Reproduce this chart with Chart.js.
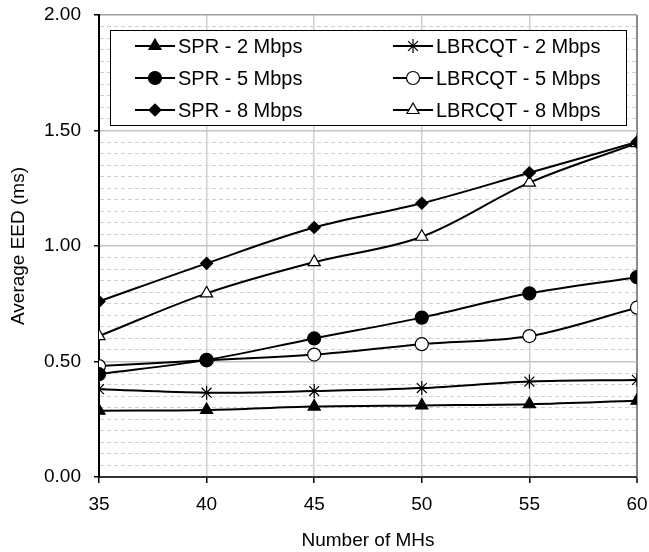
<!DOCTYPE html>
<html lang="en">
  <head>
    <meta charset="UTF-8" />
    <title>Average EED</title>
    <script src="https://cdn.jsdelivr.net/npm/chart.js"></script>
    <style>
      body { margin: 0; background: #fff; }
      #chartBox { width: 649px; height: 552px; }
    </style>
  </head>
  <body>
    <div id="chartBox"><canvas id="eedChart"></canvas></div>

    <script>
      const numMHs = [35, 40, 45, 50, 55, 60];
      const spr2 = [0.287, 0.29, 0.305, 0.31, 0.315, 0.33];
      const spr5 = [0.445, 0.507, 0.6, 0.69, 0.795, 0.865];
      const spr8 = [0.76, 0.925, 1.08, 1.185, 1.317, 1.45];
      const lbr2 = [0.38, 0.365, 0.372, 0.385, 0.413, 0.42];
      const lbr5 = [0.48, 0.505, 0.53, 0.575, 0.61, 0.733];
      const lbr8 = [0.61, 0.795, 0.93, 1.04, 1.274, 1.445];
      const seriesLabels = [
        "SPR - 2 Mbps", "SPR - 5 Mbps", "SPR - 8 Mbps",
        "LBRCQT - 2 Mbps", "LBRCQT - 5 Mbps", "LBRCQT - 8 Mbps",
      ];

      const FONT = "'Liberation Sans', Arial, sans-serif";

      function toPoints(values) {
        return values.map((v, i) => ({ x: numMHs[i], y: v }));
      }

      function isMajor(v) {
        return Math.abs(v * 2 - Math.round(v * 2)) < 1e-6;
      }

      function makeSet(label, values, style, radius, fill) {
        return {
          label: label,
          data: toPoints(values),
          borderColor: "#000",
          borderWidth: 2,
          tension: 0.35,
          pointStyle: style,
          pointRadius: radius,
          pointBackgroundColor: fill,
          pointBorderColor: "#000",
          pointBorderWidth: 1.2,
        };
      }

      const datasets = [
        makeSet(seriesLabels[0], spr2, "triangle", 7, "#000"),
        makeSet(seriesLabels[1], spr5, "circle", 6.5, "#000"),
        makeSet(seriesLabels[2], spr8, "rectRot", 6, "#000"),
        makeSet(seriesLabels[3], lbr2, "star", 7, "#fff"),
        makeSet(seriesLabels[4], lbr5, "circle", 6.5, "#fff"),
        makeSet(seriesLabels[5], lbr8, "triangle", 7, "#fff"),
      ];

      // legend box drawn inside the plot, two columns of three
      const boxLegend = {
        id: "boxLegend",
        afterDraw(chart) {
          const ctx = chart.ctx;
          ctx.save();
          ctx.fillStyle = "#fff";
          ctx.fillRect(110, 30, 516, 95);
          ctx.strokeStyle = "#000";
          ctx.lineWidth = 1;
          ctx.strokeRect(110.5, 30.5, 516, 95);

          const cols = [135, 393];
          const rows = [46, 78, 110];
          chart.data.datasets.forEach((ds, i) => {
            const x0 = cols[Math.floor(i / 3)];
            const y = rows[i % 3];
            ctx.strokeStyle = "#000";
            ctx.lineWidth = 2;
            ctx.beginPath();
            ctx.moveTo(x0, y);
            ctx.lineTo(x0 + 40, y);
            ctx.stroke();
            ctx.fillStyle = ds.pointBackgroundColor;
            ctx.lineWidth = ds.pointBorderWidth;
            Chart.helpers.drawPoint(ctx, {
              pointStyle: ds.pointStyle,
              radius: ds.pointRadius,
              rotation: 0,
              borderWidth: ds.pointBorderWidth,
            }, x0 + 20, y);
            ctx.fillStyle = "#000";
            ctx.font = "20px " + FONT;
            ctx.textBaseline = "middle";
            ctx.textAlign = "left";
            ctx.fillText(ds.label, x0 + 43, y + 1);
          });
          ctx.restore();
        },
      };

      const ctx = document.getElementById("eedChart").getContext("2d");
      new Chart(ctx, {
        type: "line",
        data: { datasets: datasets },
        plugins: [boxLegend],
        options: {
          responsive: true,
          maintainAspectRatio: false,
          animation: false,
          layout: { padding: { top: 15, right: 12, left: 0, bottom: 0 } },
          plugins: {
            legend: { display: false },
            tooltip: { enabled: false },
          },
          scales: {
            x: {
              type: "linear",
              min: 35,
              max: 60,
              ticks: {
                stepSize: 5,
                color: "#000",
                font: { family: FONT, size: 19 },
                padding: 10,
              },
              grid: {
                color: (c) => (c.tick && c.tick.value === 60 ? "#8a8a8a" : "#d0d0d0"),
                lineWidth: (c) => (c.tick && c.tick.value === 60 ? 2 : 1.5),
                tickColor: "#000",
                tickLength: 6,
                tickWidth: 1.5,
              },
              border: { color: "#333", width: 2 },
              title: {
                display: true,
                text: "Number of MHs",
                color: "#000",
                font: { family: FONT, size: 19 },
                padding: { top: 0, bottom: 0 },
              },
              afterFit: (scale) => {
                scale.height = 75;
                scale.paddingLeft = 0;
                scale.paddingRight = 0;
              },
            },
            y: {
              min: 0,
              max: 2,
              ticks: {
                stepSize: 0.05,
                autoSkip: false,
                maxTicksLimit: 100,
                color: "#000",
                font: { family: FONT, size: 19 },
                padding: 13,
                callback: (v) => (isMajor(v) ? v.toFixed(2) : ""),
              },
              grid: {
                color: (c) => {
                  if (!c.tick) return "#d0d0d0";
                  if (Math.abs(c.tick.value - 2) < 1e-6) return "#a0a0a0";
                  return isMajor(c.tick.value) ? "#c4c4c4" : "#cfcfcf";
                },
                lineWidth: (c) => (c.tick && isMajor(c.tick.value) ? 1.5 : 1),
                tickColor: (c) => (c.tick && isMajor(c.tick.value) ? "#000" : "rgba(0,0,0,0)"),
                tickLength: 5,
                tickWidth: 1.5,
              },
              border: {
                color: "#000",
                width: 2,
                dash: (c) => (c.tick && !isMajor(c.tick.value) ? [4, 3] : []),
              },
              title: {
                display: true,
                text: "Average EED (ms)",
                color: "#000",
                font: { family: FONT, size: 19 },
                padding: { top: 7, bottom: 0 },
              },
              afterFit: (scale) => {
                scale.width = 99;
                scale.paddingTop = 0;
                scale.paddingBottom = 0;
              },
            },
          },
        },
      });
    </script>
  </body>
</html>
